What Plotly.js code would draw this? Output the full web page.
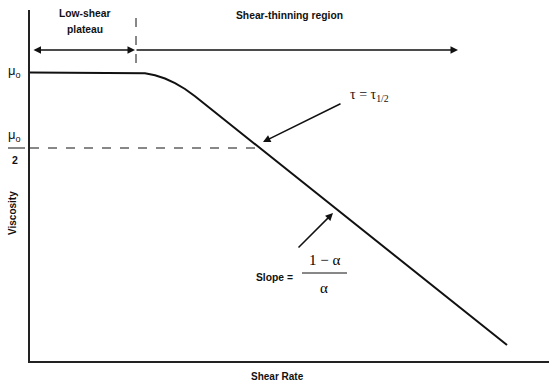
<!DOCTYPE html>
<html><head><meta charset="utf-8">
<script src="https://cdn.plot.ly/plotly-3.0.1.min.js"></script>
<style>html,body{margin:0;padding:0;background:#fff}#c{width:555px;height:390px}</style>
</head><body><div id="c"></div>
<script>
// Shear rate (arbitrary units) and viscosity (arbitrary units)
const shearRate = [0, 105, 115, 125, 135, 145, 155, 165, 477];
const viscosity = [288.5, 288.5, 287.8, 285.8, 282.5, 277.8, 272, 264.7, 16];

const SANS = 'Liberation Sans, Arial, sans-serif';
const SERIF = 'Liberation Serif, Times New Roman, serif';
const ink = '#111';

// helpers to convert sketch pixel positions to axis / paper units
function px(x){return x-30;}
function py(y){return 361-y;}
function ppx(x){return (x-30)/519;}
function ppy(y){return (361-y)/351;}

const data = [{
  x: shearRate, y: viscosity, type: 'scatter', mode: 'lines',
  line: {color: ink, width: 2}, hoverinfo: 'skip', showlegend: false
}];

const annotations = [
  {x: px(135), y: py(50), ax: px(32), ay: py(50), xref:'x', yref:'y', axref:'x', ayref:'y',
   showarrow:true, arrowside:'end+start', arrowhead:2, arrowsize:1, arrowwidth:1.5, arrowcolor:ink, text:''},
  {x: px(458), y: py(50), ax: px(135), ay: py(50), xref:'x', yref:'y', axref:'x', ayref:'y',
   showarrow:true, arrowhead:2, arrowsize:1, arrowwidth:1.5, arrowcolor:ink, text:''},
  {x: px(85), y: py(13), xref:'x', yref:'y', showarrow:false, text:'<b>Low-shear</b>',
   font:{family:SANS, size:10.3, color:ink}},
  {x: px(85), y: py(29), xref:'x', yref:'y', showarrow:false, text:'<b>plateau</b>',
   font:{family:SANS, size:10.3, color:ink}},
  {x: px(289), y: py(15), xref:'x', yref:'y', showarrow:false, text:'<b>Shear-thinning region</b>',
   font:{family:SANS, size:10.3, color:ink}},
  {x: px(263), y: py(142), ax: px(342), ay: py(103), xref:'x', yref:'y', axref:'x', ayref:'y',
   showarrow:true, arrowhead:2, arrowsize:1, arrowwidth:1.5, arrowcolor:ink, text:''},
  {x: px(348), y: py(95), xref:'x', yref:'y', xanchor:'left', showarrow:false,
   text:'τ = τ<sub>1/2</sub>', font:{family:SERIF, size:14, color:ink}},
  {x: px(333), y: py(213), ax: px(297), ay: py(249), xref:'x', yref:'y', axref:'x', ayref:'y',
   showarrow:true, arrowhead:2, arrowsize:1, arrowwidth:1.5, arrowcolor:ink, text:''},
  {x: px(254), y: py(277), xref:'x', yref:'y', xanchor:'left', showarrow:false,
   text:'<b>Slope =</b>', font:{family:SANS, size:10.3, color:ink}},
  {x: px(324), y: py(260), xref:'x', yref:'y', showarrow:false,
   text:'1 − α', font:{family:SERIF, size:15, color:'#000'}},
  {x: px(324), y: py(288), xref:'x', yref:'y', showarrow:false,
   text:'α', font:{family:SERIF, size:15, color:'#000'}},
  {x: ppx(14), y: ppy(71), xref:'paper', yref:'paper', showarrow:false,
   text:'μ<sub>o</sub>', font:{family:SANS, size:13, color:ink}},
  {x: ppx(14), y: ppy(135), xref:'paper', yref:'paper', showarrow:false,
   text:'μ<sub>o</sub>', font:{family:SANS, size:13, color:ink}},
  {x: ppx(15), y: ppy(160), xref:'paper', yref:'paper', showarrow:false,
   text:'<b>2</b>', font:{family:SANS, size:10.5, color:ink}},
  {x: ppx(12), y: ppy(213), xref:'paper', yref:'paper', showarrow:false, textangle:-90,
   text:'<b>Viscosity</b>', font:{family:SANS, size:10, color:ink}},
  {x: ppx(277), y: ppy(377), xref:'paper', yref:'paper', showarrow:false,
   text:'<b>Shear Rate</b>', font:{family:SANS, size:10, color:ink}}
];
annotations.forEach(a=>{ if(!a.showarrow){ if(!a.xanchor) a.xanchor='center'; a.yanchor='middle'; } });

const shapes = [
  {type:'line', xref:'x', yref:'y', x0:px(136), x1:px(136), y0:py(18), y1:py(72),
   line:{color:ink, width:1, dash:'dash'}},
  {type:'line', xref:'x', yref:'y', x0:0, x1:px(262), y0:py(148), y1:py(148),
   line:{color:ink, width:1, dash:'dash'}},
  {type:'line', xref:'paper', yref:'paper', x0:ppx(8), x1:ppx(25), y0:ppy(148), y1:ppy(148),
   line:{color:ink, width:1}},
  {type:'line', xref:'x', yref:'y', x0:px(302), x1:px(347), y0:py(273), y1:py(273),
   line:{color:ink, width:1}}
];

const layout = {
  width:555, height:390,
  margin:{l:30, r:6, t:10, b:29, pad:0},
  paper_bgcolor:'#fff', plot_bgcolor:'#fff',
  showlegend:false,
  xaxis:{range:[0,519], showgrid:false, zeroline:false, showticklabels:false, ticks:'',
    showline:true, linecolor:'#222', linewidth:2},
  yaxis:{range:[0,351], showgrid:false, zeroline:false, showticklabels:false, ticks:'',
    showline:true, linecolor:'#222', linewidth:2},
  annotations:annotations,
  shapes:shapes
};
Plotly.newPlot('c', data, layout, {displayModeBar:false, staticPlot:true});
</script></body></html>
